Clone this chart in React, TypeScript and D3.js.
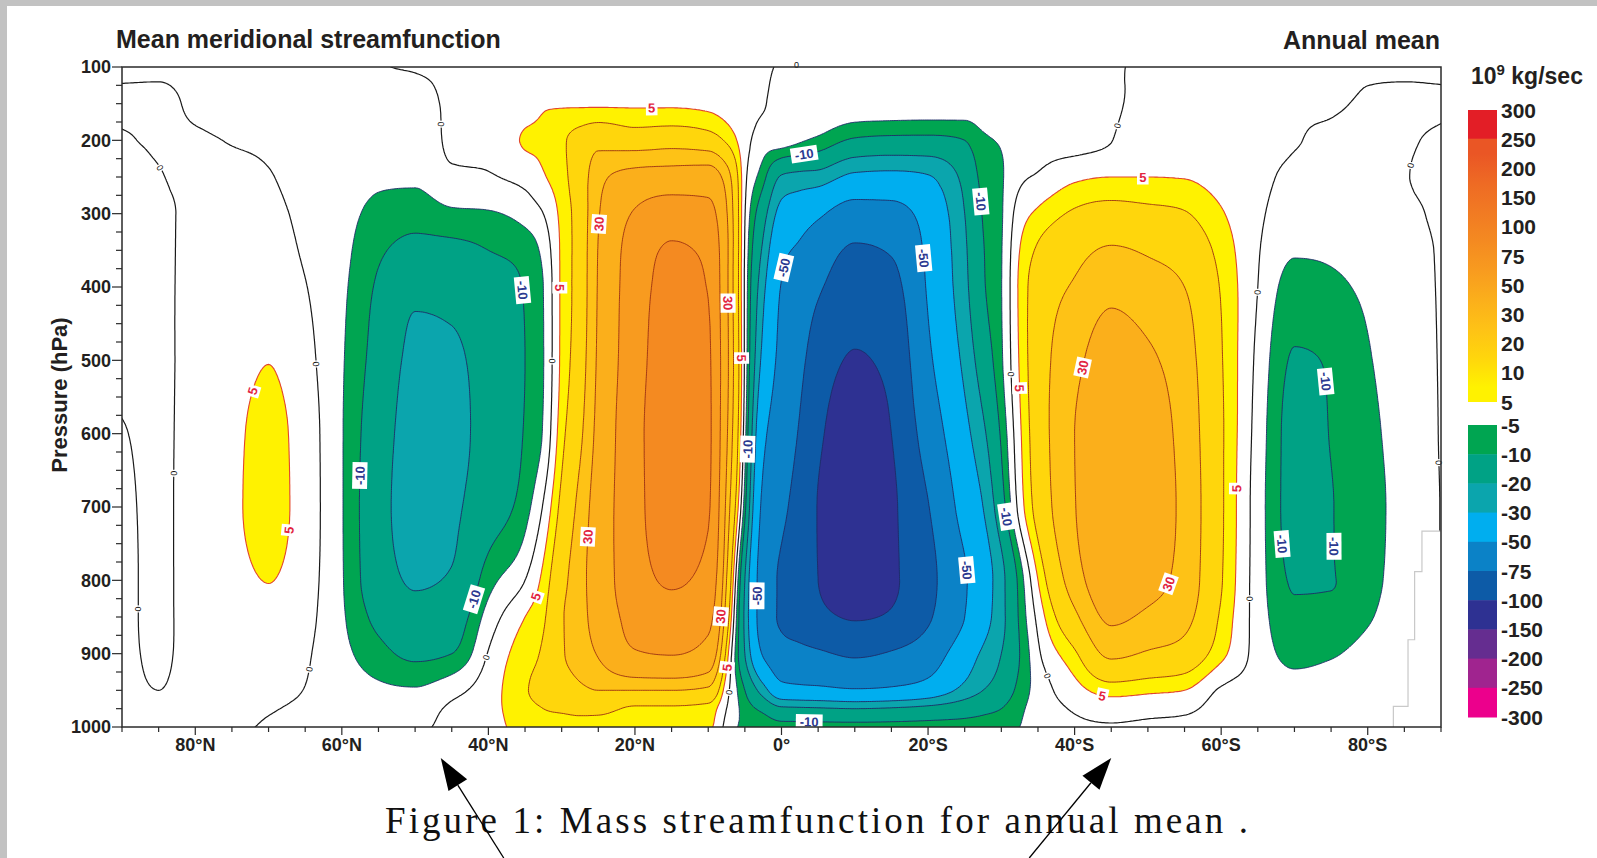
import React, { useMemo } from 'react';
import * as d3 from 'd3';

// ---- Gridded field: mean meridional mass streamfunction (10^9 kg/s) ----
// latitude nodes, north positive
const latitudes = [
  90, 85, 80, 75, 70, 65, 60, 55, 50, 45, 40, 35, 32.5, 30, 27.5, 25, 20, 15, 10, 7.5, 5, 2.5, 0,
  -2.5, -5, -10, -15, -20, -25, -27.5, -30, -32.5, -35, -40, -45, -50, -55, -60, -65, -70, -75, -80, -85, -90,
];
// pressure levels (hPa)
const pressureLevels = [100, 150, 200, 250, 300, 350, 400, 500, 600, 700, 800, 850, 900, 950, 975, 1000];
// one vertical profile per latitude node (same order as latitudes)
const streamfunction: number[][] = [
  [-0.5, 0.4, -0.2, -0.5, -0.5, -0.5, -0.5, -0.4, 0.1, 0.4, 0.5, 0.5, 0.5, 0.4, 0.3, 0.2],
  [-0.4, 0.4, 0.2, -0.1, -0.4, -0.4, -0.4, -0.4, -0.4, -0.4, -0.4, -0.4, -0.3, 0.0, 0.2, 0.3],
  [-0.6, -0.3, 0.2, 0.5, 0.6, 0.7, 0.8, 1.0, 1.2, 1.3, 1.2, 1.1, 0.9, 0.7, 0.5, 0.4],
  [-0.8, -0.6, -0.1, 0.6, 1.0, 1.5, 2.0, 3.0, 3.8, 4.0, 3.4, 2.8, 2.1, 1.3, 0.8, 0.4],
  [-1.0, -0.9, -0.5, 0.2, 1.0, 2.0, 3.0, 4.9, 6.5, 6.8, 5.1, 3.8, 2.3, 0.8, 0.2, -0.3],
  [-1.5, -1.8, -2.0, -1.8, -1.2, -0.6, 0.2, 1.5, 2.5, 2.6, 2.1, 1.5, 0.6, -0.1, -0.5, -0.8],
  [-1.2, -1.8, -2.5, -3.0, -3.3, -3.6, -4.0, -4.5, -4.7, -4.7, -4.6, -4.3, -3.6, -2.4, -1.6, -1.0],
  [-0.2, -1.0, -2.0, -4.0, -6.5, -9.0, -11.0, -13.0, -15.0, -16.0, -15.0, -12.0, -8.0, -4.0, -2.5, -1.5],
  [0.3, -1.5, -2.5, -4.0, -8.0, -12.0, -18.0, -22.0, -24.0, -25.0, -21.0, -17.0, -11.5, -4.5, -2.2, -1.0],
  [1.0, 0.8, 0.6, -0.8, -6.0, -12.0, -17.0, -21.5, -23.0, -22.0, -19.0, -14.5, -10.0, -1.5, 0.8, 1.5],
  [1.5, 1.5, 0.8, -0.3, -5.5, -10.0, -13.0, -16.0, -16.0, -14.0, -7.0, -3.0, 0.3, 2.5, 3.0, 3.0],
  [2.0, 3.0, 5.5, 1.5, -3.0, -8.0, -9.5, -10.0, -9.5, -7.0, 0.0, 5.0, 8.0, 9.5, 8.5, 7.0],
  [2.0, 4.5, 6.0, 4.5, 0.0, -3.5, -5.0, -5.2, -4.5, 0.5, 6.5, 9.0, 11.0, 12.0, 10.0, 8.0],
  [2.5, 4.5, 9.0, 8.0, 6.5, 6.0, 6.0, 6.2, 8.0, 12.0, 17.0, 19.0, 19.0, 15.0, 11.0, 7.0],
  [3.0, 4.5, 13.0, 15.0, 14.0, 14.0, 14.0, 15.0, 18.0, 23.0, 26.0, 26.0, 24.0, 18.0, 12.0, 7.0],
  [3.0, 4.5, 17.0, 26.0, 29.0, 30.5, 31.0, 32.0, 34.0, 37.0, 38.0, 36.0, 31.0, 20.0, 12.0, 7.0],
  [3.0, 4.5, 15.0, 35.0, 52.0, 60.0, 62.0, 64.0, 67.0, 67.0, 64.0, 58.0, 48.0, 20.0, 9.0, 6.5],
  [3.0, 4.5, 16.0, 37.0, 63.0, 78.0, 84.0, 90.0, 92.0, 90.0, 78.0, 65.0, 51.0, 20.0, 9.0, 6.5],
  [2.5, 4.0, 14.0, 38.0, 58.0, 70.0, 74.0, 78.0, 79.0, 77.0, 66.0, 56.0, 42.0, 18.0, 8.0, 6.0],
  [2.0, 3.0, 9.0, 25.0, 31.0, 33.0, 33.0, 34.0, 32.0, 27.0, 20.0, 15.0, 8.0, 2.0, 0.0, -1.5],
  [0.5, 1.0, 2.0, 1.5, 0.3, -0.5, -1.0, -1.0, -3.0, -8.0, -20.0, -22.0, -20.0, -10.0, -7.0, -6.0],
  [0.5, 0.3, -2.5, -8.0, -16.0, -22.0, -27.0, -34.0, -45.0, -55.0, -62.0, -62.0, -52.0, -25.0, -12.0, -6.0],
  [-0.3, -1.5, -3.0, -21.0, -35.0, -45.0, -51.0, -56.0, -62.0, -70.0, -78.0, -78.0, -65.0, -42.0, -18.0, -7.0],
  [-0.3, -1.5, -4.5, -23.0, -41.0, -53.0, -61.0, -70.0, -77.0, -84.0, -88.0, -85.0, -69.0, -44.0, -18.5, -7.0],
  [-0.3, -1.5, -6.0, -24.0, -47.0, -62.0, -72.0, -86.0, -95.0, -101.0, -100.0, -93.0, -72.0, -45.0, -19.0, -7.0],
  [-0.5, -2.0, -11.0, -33.0, -60.0, -78.0, -88.0, -102.0, -115.0, -120.0, -115.0, -102.0, -78.0, -48.0, -20.0, -7.0],
  [-0.5, -2.0, -12.0, -34.0, -58.0, -73.0, -82.0, -93.0, -100.0, -104.0, -104.0, -97.0, -73.0, -46.0, -19.0, -7.0],
  [-0.5, -2.0, -12.0, -31.0, -42.0, -46.0, -48.0, -54.0, -64.0, -76.0, -82.0, -78.0, -62.0, -40.0, -17.0, -7.0],
  [-0.5, -2.0, -10.0, -17.0, -20.0, -21.5, -22.5, -27.0, -34.0, -42.0, -52.0, -50.0, -38.0, -26.0, -14.0, -7.0],
  [-0.5, -1.5, -6.0, -8.0, -9.5, -10.5, -11.0, -15.0, -22.0, -30.0, -38.0, -36.0, -28.0, -20.0, -12.0, -7.0],
  [-0.5, -1.5, -4.5, -5.5, -5.5, -5.3, -5.2, -5.8, -9.0, -13.5, -23.0, -23.0, -20.0, -15.0, -10.0, -6.5],
  [-0.8, -1.5, -2.5, -1.0, 2.5, 5.0, 6.0, 5.5, 4.0, 2.0, -8.0, -9.0, -10.0, -8.0, -6.0, -5.0],
  [-0.8, -1.2, -1.5, 0.5, 6.0, 11.0, 14.0, 15.0, 14.5, 13.0, 5.0, 1.5, -1.0, -3.0, -3.0, -2.5],
  [-0.8, -1.0, -1.5, 4.0, 11.0, 17.0, 21.0, 27.0, 30.0, 29.5, 25.0, 18.0, 9.0, 3.0, 0.5, -1.0],
  [-0.3, -0.6, -0.1, 5.0, 13.0, 21.0, 27.0, 36.0, 41.0, 42.0, 38.0, 32.0, 22.0, 7.0, 2.0, -0.5],
  [0.5, 1.5, 3.0, 5.0, 12.0, 19.0, 24.0, 32.0, 37.0, 38.0, 34.0, 28.0, 19.0, 6.0, 1.5, -1.0],
  [1.0, 2.0, 3.0, 4.8, 10.5, 16.0, 20.0, 24.0, 26.0, 27.0, 26.0, 23.0, 16.0, 5.0, 1.0, -1.5],
  [1.0, 1.5, 2.0, 3.0, 5.5, 8.0, 9.5, 10.5, 11.0, 11.0, 10.5, 9.0, 6.5, -0.5, -1.5, -2.0],
  [1.0, 1.2, 1.5, 1.3, 0.9, 0.4, 0.0, -1.2, -2.0, -2.5, -2.5, -2.2, -1.8, -1.5, -1.2, -1.0],
  [0.5, 0.3, 0.2, -1.0, -2.5, -4.5, -7.0, -10.5, -12.0, -12.0, -10.5, -9.0, -6.5, -3.0, -2.0, -1.5],
  [0.8, 0.3, -0.5, -1.2, -2.5, -4.2, -6.0, -9.5, -9.8, -10.2, -10.2, -8.5, -5.5, -2.5, -2.0, -1.5],
  [0.3, -0.3, -1.0, -1.5, -2.2, -3.0, -4.0, -5.5, -6.5, -7.0, -6.5, -5.5, -3.5, -2.0, -1.5, -1.2],
  [0.3, -0.3, -0.2, -0.1, -0.5, -0.9, -1.2, -1.8, -2.5, -3.0, -3.0, -2.5, -2.0, -1.5, -1.2, -1.0],
  [0.3, -0.2, 0.2, 0.3, 0.3, 0.2, 0.2, 0.2, 0.2, 0.1, 0.1, 0.1, 0.1, 0.1, 0.1, 0.1],
];

// ---- Contour levels and palette ----
const positiveLevels = [5, 10, 20, 30, 50, 75, 100, 150, 200, 250, 300];
const negativeLevels = [-5, -10, -20, -30, -50, -75, -100, -150, -200, -250, -300];
const positiveColors = ['#fff200', '#ffd60c', '#fec216', '#fbaf1b', '#f89b1f', '#f48a21', '#f17a23', '#ee6a24', '#ea5625', '#e31e26'];
const negativeColors = ['#00a551', '#00a285', '#0ba5ad', '#00aeef', '#0b82c7', '#0d5ba7', '#2e3192', '#652d90', '#a0248f', '#ec008c'];

// ---- Axes ----
const xTickLats = [80, 60, 40, 20, 0, -20, -40, -60, -80];
const yTickPressures = [100, 200, 300, 400, 500, 600, 700, 800, 900, 1000];

// ---- Antarctic surface (masked below ground) ----
const topoLats = [-83.5, -85.5, -86.4, -87.4, -90];
const topoSurfacePressure = [1000, 972, 881, 788, 733];

// ---- In-line contour labels: latitude, pressure, contour value ----
const contourLabels: [number, number, number][] = [
  [17.7, 164, 5], [25.1, 314, 30], [29.4, 401, 5], [7.3, 422, 30], [5.6, 497, 5], [27.3, 740, 30],
  [34.4, 818, 5], [8.5, 849, 30], [7.3, 919, 5], [72.9, 540, 5], [66.8, 732, 5], [-49.3, 251, 5],
  [-40.2, 508, 30], [-32.3, 538, 5], [-62.6, 675, 5], [-53.6, 807, 30], [-43.7, 961, 5],
  [35.1, 404, -10], [58.2, 657, -10], [42.5, 824, -10], [-3.1, 219, -10], [-27.6, 283, -10],
  [-1.0, 376, -50], [-20.1, 360, -50], [4.9, 621, -10], [3.7, 821, -50], [-30.2, 714, -10],
  [-25.4, 786, -50], [-3.8, 985, -10], [-74.2, 529, -10], [-67.1, 751, -10], [-77.8, 754, -10],
  [49, 182, 0], [84.9, 238, 0], [63.5, 505, 0], [83.5, 654, 0], [30.9, 501, 0], [87.8, 839, 0],
  [62.5, 922, 0], [40.7, 904, 0], [7, 953, 0], [-2, 110, 0], [-46.1, 181, 0], [-30.9, 519, 0],
  [-35.8, 932, 0], [-64.3, 407, 0], [-64.3, 825, 0], [-84.9, 233, 0], [-88.8, 640, 0],
];

// annotation arrows pointing at latitudes on the axis
const arrowTargets = [
  { lat: 46.5, tailDx: 63 },
  { lat: -45, tailDx: -82 },
];

// ---- Layout ----
const W = 1597;
const H = 858;
const PL = 122, PR = 1441, PT = 67, PB = 727;
const D_LAT = 0.25;
const D_P = 2.5;
const NX = Math.round(180 / D_LAT) + 1;
const NY = Math.round(900 / D_P) + 1;

const xScale = d3.scaleLinear().domain([90, -90]).range([PL, PR]);
const yScale = d3.scaleLinear().domain([100, 1000]).range([PT, PB]);
const PX_U = (PR - PL) / 180 * D_LAT;
const PX_V = (PB - PT) / 900 * D_P;

const FONT = "'Liberation Sans', Arial, Helvetica, sans-serif";

// monotone (Steffen) cubic Hermite interpolation, xs ascending
function monotoneInterp(xs: number[], ys: number[], xq: number[]): number[] {
  const n = xs.length;
  const h: number[] = [];
  const s: number[] = [];
  for (let i = 0; i < n - 1; i++) {
    h[i] = xs[i + 1] - xs[i];
    s[i] = (ys[i + 1] - ys[i]) / h[i];
  }
  const m: number[] = new Array(n);
  m[0] = s[0];
  m[n - 1] = s[n - 2];
  for (let i = 1; i < n - 1; i++) {
    const p = (s[i - 1] * h[i] + s[i] * h[i - 1]) / (h[i - 1] + h[i]);
    m[i] = (Math.sign(s[i - 1]) + Math.sign(s[i])) *
      Math.min(Math.abs(s[i - 1]), Math.abs(s[i]), 0.5 * Math.abs(p));
  }
  const out: number[] = [];
  let k = 0;
  for (const x of xq) {
    while (k < n - 2 && x > xs[k + 1]) k++;
    const t = Math.max(0, Math.min(1, (x - xs[k]) / h[k]));
    const t2 = t * t, t3 = t2 * t;
    out.push(
      (2 * t3 - 3 * t2 + 1) * ys[k] + (t3 - 2 * t2 + t) * h[k] * m[k] +
      (-2 * t3 + 3 * t2) * ys[k + 1] + (t3 - t2) * h[k] * m[k + 1]
    );
  }
  return out;
}

function buildField(): Float64Array {
  const finePs = d3.range(NY).map((j) => 100 + j * D_P);
  const fineXs = d3.range(NX).map((i) => i * D_LAT);
  const cols = streamfunction.map((profile) => monotoneInterp(pressureLevels, profile, finePs));
  const nodeXs = latitudes.map((l) => 90 - l);
  const values = new Float64Array(NX * NY);
  for (let j = 0; j < NY; j++) {
    const row = monotoneInterp(nodeXs, cols.map((c) => c[j]), fineXs);
    for (let i = 0; i < NX; i++) values[j * NX + i] = row[i];
  }
  return values;
}

const gridX = (c: number) => xScale(90 - (c - 0.5) * D_LAT);
const gridY = (c: number) => yScale(100 + (c - 0.5) * D_P);

function contourPath(mp: any): string {
  let s = '';
  for (const poly of mp.coordinates) {
    for (const ring of poly) {
      ring.forEach((pt: number[], k: number) => {
        s += (k ? 'L' : 'M') + gridX(pt[0]).toFixed(1) + ',' + gridY(pt[1]).toFixed(1);
      });
      s += 'Z';
    }
  }
  return s;
}

function sampleField(values: Float64Array, u: number, v: number): number {
  const uu = Math.max(0, Math.min(NX - 1.0001, u));
  const vv = Math.max(0, Math.min(NY - 1.0001, v));
  const i = Math.floor(uu), j = Math.floor(vv);
  const fu = uu - i, fv = vv - j;
  const a = values[j * NX + i], b = values[j * NX + i + 1];
  const c = values[(j + 1) * NX + i], d = values[(j + 1) * NX + i + 1];
  return (a * (1 - fu) + b * fu) * (1 - fv) + (c * (1 - fu) + d * fu) * fv;
}

function placeLabel(values: Float64Array, lat: number, p: number, value: number) {
  const u0 = (90 - lat) / D_LAT;
  const v0 = (p - 100) / D_P;
  let u = u0, v = v0;
  const grad = (uu: number, vv: number) => [
    (sampleField(values, uu + 1, vv) - sampleField(values, uu - 1, vv)) / (2 * PX_U),
    (sampleField(values, uu, vv + 1) - sampleField(values, uu, vv - 1)) / (2 * PX_V),
  ];
  for (let k = 0; k < 12; k++) {
    const f = sampleField(values, u, v);
    if (Math.abs(value - f) < 0.005) break;
    const [gu, gv] = grad(u, v);
    const gg = gu * gu + gv * gv;
    if (gg < 1e-12) break;
    let sx = ((value - f) * gu) / gg;
    let sy = ((value - f) * gv) / gg;
    const len = Math.hypot(sx, sy);
    if (len > 5) { sx *= 5 / len; sy *= 5 / len; }
    const nu = u + sx / PX_U, nv = v + sy / PX_V;
    if (Math.hypot((nu - u0) * PX_U, (nv - v0) * PX_V) > 22) break;
    u = nu; v = nv;
  }
  const [gu, gv] = grad(u, v);
  let angle = (Math.atan2(gu, -gv) * 180) / Math.PI;
  if (angle > 90) angle -= 180;
  if (angle <= -90) angle += 180;
  return { x: gridX(u + 0.5), y: gridY(v + 0.5), angle };
}

const fmtLat = (l: number) => (l === 0 ? '0°' : l > 0 ? `${l}°N` : `${-l}°S`);

export default function App() {
  const model = useMemo(() => {
    const values = buildField();
    const negValues = values.map((d) => -d);
    const gen = d3.contours().size([NX, NY]).smooth(true);
    const pos = positiveLevels.slice(0, -1).map((t, i) => ({
      t, color: positiveColors[i], d: contourPath(gen.contour(values as any, t)),
    }));
    const neg = negativeLevels.slice(0, -1).map((t, i) => ({
      t, color: negativeColors[i], d: contourPath(gen.contour(negValues as any, -t)),
    }));
    const zero = contourPath(gen.contour(values as any, 0));
    const labels = contourLabels.map(([lat, p, value]) => ({
      value, ...placeLabel(values, lat, p, value),
    }));
    return { pos, neg, zero, labels };
  }, []);

  const topoPoints: [number, number][] = topoLats.map((l, i) => [xScale(l), yScale(topoSurfacePressure[i])]);
  const topoLine = d3.line().curve(d3.curveStepBefore)(topoPoints) || '';
  const topoArea = topoLine + `L${xScale(-90)},${yScale(1000)}Z`;

  const legendX = 1468, legendW = 29, legendStep = 29.2;
  const legendPosTop = 110, legendNegTop = 425;
  const posLabelsTopDown = positiveLevels.slice().reverse();

  return (
    <svg width={W} height={H} viewBox={`0 0 ${W} ${H}`}
      style={{ position: 'absolute', left: 0, top: 0, display: 'block' }}
      fontFamily={FONT}>
      <defs>
        <clipPath id="plotClip">
          <rect x={PL} y={PT} width={PR - PL} height={PB - PT} />
        </clipPath>
        <linearGradient id="posGrad" x1="0" y1="0" x2="0" y2="1">
          {d3.range(8, -1, -1).map((b) => (
            <stop key={b} offset={(8 - b + 0.5) / 9} stopColor={positiveColors[b]} />
          ))}
        </linearGradient>
      </defs>

      <rect x={0} y={0} width={W} height={H} fill="#c2c2c2" />
      <rect x={7} y={6} width={W - 7} height={H - 6} fill="#ffffff" />

      {/* filled bands */}
      <g clipPath="url(#plotClip)">
        {model.pos.map((b) => (
          <path key={'pf' + b.t} d={b.d} fill={b.color} fillRule="evenodd" />
        ))}
        {model.neg.map((b) => (
          <path key={'nf' + b.t} d={b.d} fill={b.color} fillRule="evenodd" />
        ))}
        {model.pos.map((b) => (
          <path key={'pl' + b.t} d={b.d} fill="none"
            stroke={b.t === 5 ? '#e2452c' : '#9b2f12'} strokeWidth={b.t === 5 ? 1.1 : 0.9} />
        ))}
        {model.neg.map((b) => (
          <path key={'nl' + b.t} d={b.d} fill="none" stroke="#1e2a66" strokeWidth={0.9} />
        ))}
        <path d={model.zero} fill="none" stroke="#1a1a1a" strokeWidth={1.2} />
        <path d={topoArea} fill="#ffffff" />
        <path d={topoLine} fill="none" stroke="#c9c9c9" strokeWidth={1.2} />
      </g>

      {/* contour labels */}
      {model.labels.map((l, i) => {
        const text = String(l.value);
        const isZero = l.value === 0;
        const fs = isZero ? 9 : 13;
        const w = isZero ? 7 : text.length * 7.6 + 4;
        const h = isZero ? 9 : 15;
        const color = isZero ? '#111' : l.value > 0 ? '#e2253f' : '#2b3990';
        return (
          <g key={'lab' + i} transform={`translate(${l.x.toFixed(1)},${l.y.toFixed(1)}) rotate(${l.angle.toFixed(1)})`}>
            <rect x={-w / 2} y={-h / 2} width={w} height={h} fill="#ffffff" />
            <text textAnchor="middle" dy="0.36em" fontSize={fs} fontWeight={isZero ? 400 : 700} fill={color}>
              {text}
            </text>
          </g>
        );
      })}

      {/* frame */}
      <rect x={PL} y={PT} width={PR - PL} height={PB - PT} fill="none" stroke="#2a2a2a" strokeWidth={1.5} />

      {/* y axis */}
      {d3.range(100, 1001, 25).map((p) => {
        const major = p % 100 === 0;
        return (
          <line key={'yt' + p} x1={PL - (major ? 10 : 6)} x2={PL} y1={yScale(p)} y2={yScale(p)}
            stroke="#2a2a2a" strokeWidth={1.2} />
        );
      })}
      {yTickPressures.map((p) => (
        <text key={'yl' + p} x={111} y={yScale(p)} dy="0.36em" textAnchor="end"
          fontSize={18} fontWeight={700} fill="#231f20">{p}</text>
      ))}
      <text transform={`translate(59,395) rotate(-90)`} textAnchor="middle" dy="0.36em"
        fontSize={22} fontWeight={700} fill="#231f20">Pressure (hPa)</text>

      {/* x axis */}
      {d3.range(90, -91, -5).map((l) => {
        const major = l % 20 === 0 && Math.abs(l) < 90;
        return (
          <line key={'xt' + l} x1={xScale(l)} x2={xScale(l)} y1={PB} y2={PB + (major ? 8 : 5)}
            stroke="#2a2a2a" strokeWidth={1.2} />
        );
      })}
      {xTickLats.map((l) => (
        <text key={'xl' + l} x={xScale(l)} y={751} textAnchor="middle"
          fontSize={18} fontWeight={700} fill="#231f20">{fmtLat(l)}</text>
      ))}

      {/* titles */}
      <text x={116} y={48} fontSize={25} fontWeight={700} fill="#231f20">Mean meridional streamfunction</text>
      <text x={1440} y={49} fontSize={25} fontWeight={700} fill="#231f20" textAnchor="end">Annual mean</text>

      {/* legend */}
      <text x={1471} y={84} fontSize={23} fontWeight={700} fill="#231f20">
        10<tspan fontSize={15} dy={-9}>9</tspan><tspan dy={9}> kg/sec</tspan>
      </text>
      <rect x={legendX} y={legendPosTop} width={legendW} height={legendStep} fill={positiveColors[9]} />
      <rect x={legendX} y={legendPosTop + legendStep - 0.5} width={legendW} height={legendStep * 9 + 0.5} fill="url(#posGrad)" />
      {negativeColors.map((c, k) => (
        <rect key={'nc' + k} x={legendX} y={legendNegTop + k * legendStep} width={legendW}
          height={legendStep + 0.5} fill={c} />
      ))}
      {posLabelsTopDown.map((v, k) => (
        <text key={'plab' + v} x={1501} y={legendPosTop + k * legendStep} dy="0.36em"
          fontSize={21} fontWeight={700} fill="#231f20">{v}</text>
      ))}
      {negativeLevels.map((v, k) => (
        <text key={'nlab' + v} x={1501} y={legendNegTop + k * legendStep} dy="0.36em"
          fontSize={21} fontWeight={700} fill="#231f20">{v}</text>
      ))}

      {/* caption */}
      <text x={385} y={833} fontSize={37} fill="#111"
        fontFamily="'Liberation Serif', 'Times New Roman', serif"
        textLength={863} lengthAdjust="spacing">Figure 1: Mass streamfunction for annual mean .</text>

      {/* arrows */}
      {arrowTargets.map((a, i) => {
        const tipX = xScale(a.lat), tipY = 758;
        const tailX = tipX + a.tailDx, tailY = H;
        const dx = tailX - tipX, dy = tailY - tipY;
        const len = Math.hypot(dx, dy);
        const ux = dx / len, uy = dy / len;
        const hl = 32, hw = 11;
        const bx = tipX + ux * hl, by = tipY + uy * hl;
        const p1 = [bx - uy * hw, by + ux * hw];
        const p2 = [bx + uy * hw, by - ux * hw];
        return (
          <g key={'arr' + i}>
            <line x1={bx} y1={by} x2={tailX} y2={tailY} stroke="#000" strokeWidth={1.3} />
            <path d={`M${tipX},${tipY}L${p1[0]},${p1[1]}L${p2[0]},${p2[1]}Z`} fill="#000" />
          </g>
        );
      })}
    </svg>
  );
}
